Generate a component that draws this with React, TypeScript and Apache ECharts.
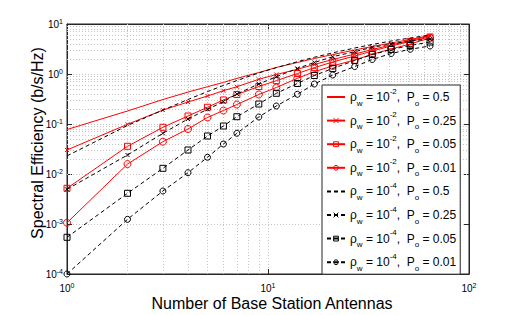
import React, { useEffect, useRef } from "react";
import * as echarts from "echarts";

// Number of base station antennas (x positions of the markers)
const antennas = [1, 2, 3, 4, 5, 6, 7, 9, 11, 14, 17, 21, 27, 33, 41, 51, 64];

// Spectral efficiency (b/s/Hz)
const seRho2Po050 = [0.0776, 0.182, 0.309, 0.435, 0.557, 0.679, 0.817, 1.07, 1.35, 1.7, 2.04, 2.45, 3.02, 3.55, 4.17, 4.9, 5.89];
const seRho2Po025 = [0.0302, 0.0986, 0.19, 0.275, 0.363, 0.463, 0.557, 0.783, 0.977, 1.24, 1.55, 1.95, 2.51, 3.09, 3.8, 4.68, 5.75];
const seRho2Po005 = [0.00518, 0.0358, 0.0859, 0.1445, 0.216, 0.302, 0.389, 0.562, 0.735, 1.02, 1.34, 1.74, 2.29, 2.88, 3.63, 4.47, 5.5];
const seRho2Po001 = [0.00106, 0.0158, 0.0443, 0.0794, 0.135, 0.186, 0.245, 0.389, 0.537, 0.82, 1.11, 1.45, 1.91, 2.48, 3.16, 3.98, 5.25];
const seRho4Po050 = [0.023, 0.0933, 0.19, 0.309, 0.445, 0.59, 0.74, 1.05, 1.34, 1.76, 2.16, 2.65, 3.31, 3.89, 4.57, 5.25, 6.03];
const seRho4Po025 = [0.00494, 0.024, 0.0652, 0.126, 0.197, 0.279, 0.398, 0.631, 0.883, 1.29, 1.7, 2.22, 2.79, 3.42, 3.98, 4.57, 5.01];
const seRho4Po005 = [0.000542, 0.00411, 0.013, 0.0302, 0.0575, 0.0912, 0.14, 0.251, 0.411, 0.646, 0.933, 1.29, 1.86, 2.45, 3.09, 3.72, 4.37];
const seRho4Po001 = [0.0001, 0.00124, 0.00457, 0.0106, 0.0216, 0.0398, 0.0652, 0.138, 0.229, 0.393, 0.631, 0.955, 1.41, 1.95, 2.57, 3.12, 3.63];

// Legend contents
const rhoExponents = ["-2", "-2", "-2", "-2", "-4", "-4", "-4", "-4"];
const poValues = ["0.5", "0.25", "0.05", "0.01", "0.5", "0.25", "0.05", "0.01"];
const seriesNames = rhoExponents.map((e, i) => `ρw = 10^${e}, Po = ${poValues[i]}`);

// Axis ranges / grid
const xMin = 1;
const xMax = 100;
const yMin = 1e-4;
const yMax = 10;
const xMinorGrid = [2, 3, 4, 5, 6, 7, 8, 9, 20, 30, 40, 50, 60, 70, 80, 90];
const yMinorGrid = [-4, -3, -2, -1, 0].flatMap((d) => [2, 3, 4, 5, 6, 7, 8, 9].map((k) => +(k * Math.pow(10, d)).toPrecision(3)));

const xTitle = "Number of Base Station Antennas";
const yTitle = "Spectral Efficiency (b/s/Hz)";

const FONT = "Liberation Sans, Arial, Helvetica, sans-serif";
const RED = "#ff0000";
const BLACK = "#000000";
const AXIS = "#262626";
const GRID = "#c4c4c4";
const CROSS = "path://M0,0L10,10M10,0L0,10";
const CLEAR = "rgba(0,0,0,0)";

const seriesData = [seRho2Po050, seRho2Po025, seRho2Po005, seRho2Po001, seRho4Po050, seRho4Po025, seRho4Po005, seRho4Po001];
const seriesStyle = [
  { color: RED, dash: "solid", symbol: "none", size: 0 },
  { color: RED, dash: "solid", symbol: CROSS, size: 4 },
  { color: RED, dash: "solid", symbol: "rect", size: 6 },
  { color: RED, dash: "solid", symbol: "circle", size: 7 },
  { color: BLACK, dash: [4, 3], symbol: "none", size: 0 },
  { color: BLACK, dash: [4, 3], symbol: CROSS, size: 4 },
  { color: BLACK, dash: [4, 3], symbol: "rect", size: 6 },
  { color: BLACK, dash: [4, 3], symbol: "circle", size: 6 },
];

function powLabel(v: number) {
  const e = Math.round(Math.log10(v));
  return `{b|10}{e|${e}}`;
}

const axisRich = {
  b: { fontSize: 10, lineHeight: 12, fontFamily: FONT, color: "#000" },
  e: { fontSize: 7, verticalAlign: "top", fontFamily: FONT, color: "#000" },
};

export default function App() {
  const ref = useRef<HTMLDivElement>(null);
  useEffect(() => {
    if (!ref.current) return;
    const chart = echarts.init(ref.current, undefined, { renderer: "svg" });

    const series: any[] = seriesData.map((arr, i) => {
      const st = seriesStyle[i];
      return {
        name: seriesNames[i],
        type: "line",
        data: antennas.map((n, j) => [n, arr[j]]),
        color: st.color,
        symbol: st.symbol,
        symbolSize: st.size,
        showSymbol: st.symbol !== "none",
        lineStyle: { color: st.color, width: 1, type: st.dash },
        itemStyle: { color: CLEAR, borderColor: st.color, borderWidth: 1 },
        z: 3 + i,
        emphasis: { disabled: true },
      };
    });

    series.push({
      name: "minor-grid",
      type: "line",
      data: [],
      silent: true,
      markLine: {
        silent: true,
        z: 1,
        symbol: ["none", "none"],
        label: { show: false },
        lineStyle: { color: GRID, width: 1, type: [1, 2] },
        emphasis: { disabled: true },
        data: [
          ...xMinorGrid.map((v) => ({ xAxis: v })),
          ...yMinorGrid.map((v) => ({ yAxis: v })),
        ],
      },
    });

    const legendData = seriesNames.map((name, i) => {
      const st = seriesStyle[i];
      return {
        name,
        itemStyle:
          st.symbol === "none"
            ? { color: CLEAR, borderColor: CLEAR, borderWidth: 0 }
            : { color: CLEAR, borderColor: st.color, borderWidth: 1 },
      };
    });

    const option: any = {
      animation: false,
      backgroundColor: "#ffffff",
      grid: {
        left: 67,
        right: 49,
        top: 24,
        bottom: 41,
        show: true,
        borderColor: AXIS,
        borderWidth: 1,
        backgroundColor: "#ffffff",
      },
      xAxis: [
        {
          type: "log",
          logBase: 10,
          min: xMin,
          max: xMax,
          position: "bottom",
          axisLine: { show: true, lineStyle: { color: AXIS } },
          axisTick: { show: true, inside: true, length: 5, lineStyle: { color: AXIS } },
          axisLabel: { formatter: powLabel, margin: 8, rich: axisRich },
          splitLine: { show: true, lineStyle: { color: GRID, width: 1, type: [1, 2] } },
        },
        {
          type: "log",
          logBase: 10,
          min: xMin,
          max: xMax,
          position: "top",
          axisLine: { show: true, lineStyle: { color: AXIS } },
          axisTick: { show: true, inside: true, length: 5, lineStyle: { color: AXIS } },
          axisLabel: { show: false },
          splitLine: { show: false },
        },
      ],
      yAxis: [
        {
          type: "log",
          logBase: 10,
          min: yMin,
          max: yMax,
          position: "left",
          axisLine: { show: true, lineStyle: { color: AXIS } },
          axisTick: { show: true, inside: true, length: 5, lineStyle: { color: AXIS } },
          axisLabel: { formatter: powLabel, margin: 4, rich: axisRich },
          splitLine: { show: true, lineStyle: { color: GRID, width: 1, type: [1, 2] } },
        },
        {
          type: "log",
          logBase: 10,
          min: yMin,
          max: yMax,
          position: "right",
          axisLine: { show: true, lineStyle: { color: AXIS } },
          axisTick: { show: true, inside: true, length: 5, lineStyle: { color: AXIS } },
          axisLabel: { show: false },
          splitLine: { show: false },
        },
      ],
      legend: {
        data: legendData,
        orient: "vertical",
        left: 322,
        top: 85,
        padding: [2, 4, 2, 4],
        itemGap: 3.6,
        itemWidth: 18,
        itemHeight: 6,
        backgroundColor: "#ffffff",
        borderColor: AXIS,
        borderWidth: 1,
        borderRadius: 0,
        selectedMode: false,
        formatter: (name: string) => {
          const i = seriesNames.indexOf(name);
          return `{t|ρ}{sb|w}{t| = 10}{sp|${rhoExponents[i]}}{t|,  P}{sb|o}{t| = ${poValues[i]}}`;
        },
        textStyle: {
          fontFamily: FONT,
          color: "#000",
          rich: {
            t: { fontSize: 12, lineHeight: 20, fontFamily: FONT, color: "#000" },
            sb: { fontSize: 8, verticalAlign: "bottom", fontFamily: FONT, color: "#000" },
            sp: { fontSize: 8, verticalAlign: "top", fontFamily: FONT, color: "#000" },
          },
        },
      },
      graphic: [
        {
          type: "text",
          x: 272,
          y: 303,
          style: {
            text: xTitle,
            fontFamily: FONT,
            fontSize: 16,
            fill: "#000",
            textAlign: "center",
            textVerticalAlign: "middle",
          },
        },
        {
          type: "text",
          x: 37,
          y: 143,
          rotation: Math.PI / 2,
          style: {
            text: yTitle,
            fontFamily: FONT,
            fontSize: 16,
            fill: "#000",
            textAlign: "center",
            textVerticalAlign: "middle",
          },
        },
      ],
      series,
    };

    chart.setOption(option);
    return () => chart.dispose();
  }, []);

  return (
    <div
      ref={ref}
      style={{ position: "absolute", left: 0, top: 0, width: 518, height: 315, background: "#fff" }}
    />
  );
}
